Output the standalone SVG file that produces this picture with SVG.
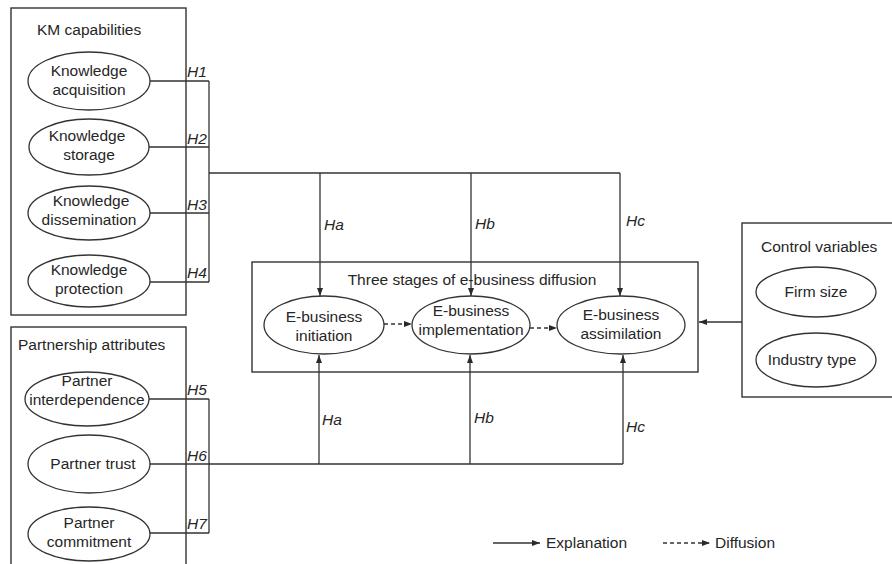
<svg xmlns="http://www.w3.org/2000/svg" width="892" height="564" viewBox="0 0 892 564">
<defs>
<marker id="ah" markerUnits="userSpaceOnUse" markerWidth="8" markerHeight="6" refX="8" refY="3" orient="auto">
<path d="M0,0 L8,3 L0,6 z" fill="#2a2a2a"/>
</marker>
<style>
text{font-family:"Liberation Sans",Arial,sans-serif;font-size:15.5px;fill:#262626}
.c{text-anchor:middle}
.h{font-style:italic}
.box{fill:none;stroke:#333;stroke-width:1.4}
.el{fill:#fff;stroke:#333;stroke-width:1.3}
.ln{fill:none;stroke:#333;stroke-width:1.3}
.dash{fill:none;stroke:#333;stroke-width:1.3;stroke-dasharray:4 3}
</style>
</defs>
<rect width="892" height="564" fill="#fff"/>

<g id="connectors">
<!-- KM bracket -->
<path class="ln" d="M150,81 H209 M149,147 H209 M149,213 H209 M149,282 H209 M209,81 V282"/>
<path class="ln" d="M209,173 H620"/>
<path class="ln" d="M320,173 V296" marker-end="url(#ah)"/>
<path class="ln" d="M471,173 V296" marker-end="url(#ah)"/>
<path class="ln" d="M620,173 V296" marker-end="url(#ah)"/>
<!-- Partnership bracket -->
<path class="ln" d="M149,399 H209 M149,533 H209 M209,399 V533"/>
<path class="ln" d="M149,464 H623"/>
<path class="ln" d="M319,464 V355" marker-end="url(#ah)"/>
<path class="ln" d="M470,464 V355" marker-end="url(#ah)"/>
<path class="ln" d="M623,464 V355" marker-end="url(#ah)"/>
<!-- diffusion -->
<path class="dash" d="M384,324 H412" marker-end="url(#ah)"/>
<path class="dash" d="M530,328 H557" marker-end="url(#ah)"/>
<!-- control -->
<path class="ln" d="M742,322 H699" marker-end="url(#ah)"/>
<!-- H labels -->
<text class="h" x="187" y="77">H1</text>
<text class="h" x="187" y="144">H2</text>
<text class="h" x="187" y="210">H3</text>
<text class="h" x="187" y="278">H4</text>
<text class="h" x="187" y="395">H5</text>
<text class="h" x="187" y="461">H6</text>
<text class="h" x="187" y="529">H7</text>
<text class="h" x="324" y="230">Ha</text>
<text class="h" x="475" y="229">Hb</text>
<text class="h" x="626" y="226">Hc</text>
<text class="h" x="322" y="425">Ha</text>
<text class="h" x="474" y="423">Hb</text>
<text class="h" x="626" y="432">Hc</text>
</g>

<g id="km-capabilities">
<rect class="box" x="11" y="8" width="175" height="307"/>
<text x="37" y="35">KM capabilities</text>
</g>
<g id="knowledge-acquisition">
<ellipse class="el" cx="89" cy="81" rx="61" ry="29"/>
<text class="c" x="89" y="76">Knowledge</text>
<text class="c" x="89" y="95">acquisition</text>
</g>
<g id="knowledge-storage">
<ellipse class="el" cx="89" cy="147" rx="60" ry="28"/>
<text class="c" x="87" y="141">Knowledge</text>
<text class="c" x="89" y="160">storage</text>
</g>
<g id="knowledge-dissemination">
<ellipse class="el" cx="89" cy="213" rx="61" ry="27"/>
<text class="c" x="91" y="206">Knowledge</text>
<text class="c" x="89" y="225">dissemination</text>
</g>
<g id="knowledge-protection">
<ellipse class="el" cx="89" cy="281" rx="61" ry="26"/>
<text class="c" x="89" y="275">Knowledge</text>
<text class="c" x="89" y="294">protection</text>
</g>

<g id="partnership-attributes">
<rect class="box" x="11" y="327" width="175" height="250"/>
<text x="18" y="350">Partnership attributes</text>
</g>
<g id="partner-interdependence">
<ellipse class="el" cx="87" cy="399" rx="62" ry="27"/>
<text class="c" x="87" y="386">Partner</text>
<text class="c" x="87" y="405">interdependence</text>
</g>
<g id="partner-trust">
<ellipse class="el" cx="89" cy="464" rx="61" ry="29"/>
<text class="c" x="93" y="469">Partner trust</text>
</g>
<g id="partner-commitment">
<ellipse class="el" cx="89" cy="534" rx="61" ry="27"/>
<text class="c" x="89" y="528">Partner</text>
<text class="c" x="89" y="547">commitment</text>
</g>

<g id="three-stages">
<rect class="box" x="252" y="262" width="446" height="110"/>
<text class="c" x="472" y="285">Three stages of e-business diffusion</text>
</g>
<g id="e-business-initiation">
<ellipse class="el" cx="324" cy="325" rx="60" ry="29"/>
<text class="c" x="324" y="322">E-business</text>
<text class="c" x="324" y="341">initiation</text>
</g>
<g id="e-business-implementation">
<ellipse class="el" cx="471" cy="325" rx="59" ry="29"/>
<text class="c" x="471" y="316">E-business</text>
<text class="c" x="471" y="335">implementation</text>
</g>
<g id="e-business-assimilation">
<ellipse class="el" cx="621" cy="325" rx="64" ry="29"/>
<text class="c" x="621" y="320">E-business</text>
<text class="c" x="621" y="339">assimilation</text>
</g>

<g id="control-variables">
<rect class="box" x="742" y="223" width="160" height="174"/>
<text x="761" y="252">Control variables</text>
</g>
<g id="firm-size">
<ellipse class="el" cx="816" cy="292" rx="60" ry="25"/>
<text class="c" x="816" y="297">Firm size</text>
</g>
<g id="industry-type">
<ellipse class="el" cx="816" cy="360" rx="60" ry="27"/>
<text class="c" x="812" y="365">Industry type</text>
</g>

<g id="legend">
<path class="ln" d="M493,543 H540" marker-end="url(#ah)"/>
<text x="546" y="548">Explanation</text>
<path class="dash" d="M663,543 H710" marker-end="url(#ah)"/>
<text x="715" y="548">Diffusion</text>
</g>
</svg>
